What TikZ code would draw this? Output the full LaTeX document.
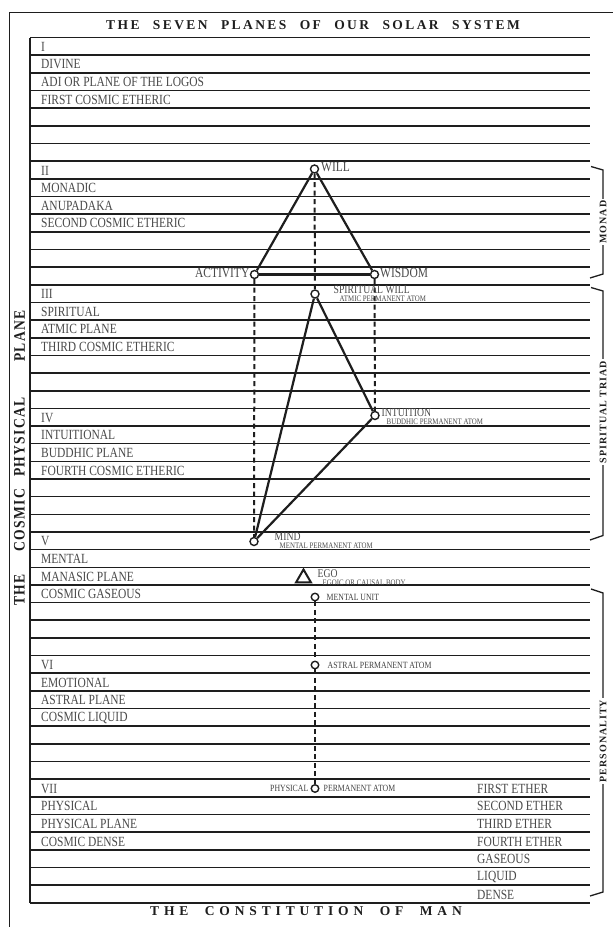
\documentclass[tikz,border=0pt]{standalone}
\usepackage{fontspec}
\setmainfont{Liberation Serif}
\newfontfamily\labfont[FakeStretch=0.82]{Liberation Serif}
\newfontfamily\titlefont[LetterSpace=18,WordSpace=2.3]{Liberation Serif}
\newfontfamily\titlefontb[LetterSpace=36,WordSpace=2.0]{Liberation Serif}
\newfontfamily\sidefont[FakeStretch=0.85,LetterSpace=8]{Liberation Serif}
\newfontfamily\brkfont[LetterSpace=10]{Liberation Serif}
\usetikzlibrary{shapes.geometric}
\definecolor{txt}{HTML}{4A4A4A}
\definecolor{ink}{HTML}{1E1E1E}
\begin{document}
\begin{tikzpicture}[x=1pt,y=-1pt,
  rowline/.style={draw=ink,line width=1.6pt},
  frameline/.style={draw=ink,line width=1.6pt},
  rowlab/.style={anchor=west,inner sep=0pt,text=txt,font=\labfont\fontsize{14}{14}\selectfont},
  biglab/.style={inner sep=0pt,text=txt,font=\labfont\fontsize{14}{14}\selectfont},
  midlab/.style={anchor=west,inner sep=0pt,text=txt,font=\labfont\fontsize{11.8}{12}\selectfont},
  smalllab/.style={inner sep=0pt,text=ink!85,font=\labfont\fontsize{9.5}{10}\selectfont},
  tinylab/.style={anchor=west,inner sep=0pt,text=txt,font=\labfont\fontsize{8.4}{9}\selectfont},
  atom/.style={circle,draw=ink,fill=white,line width=1.4pt,minimum size=8pt,inner sep=0pt},
  tri/.style={draw=ink,line width=2.2pt},
  dashline/.style={draw=ink,line width=2pt,dash pattern=on 5pt off 3.5pt},
  brk/.style={draw=ink,line width=1.3pt},
  brklab/.style={rotate=90,fill=white,inner sep=2pt,text=ink,font=\brkfont\bfseries\fontsize{10}{10}\selectfont},
  sidelab/.style={rotate=90,inner sep=0pt,text=ink,font=\sidefont\bfseries\fontsize{16}{16}\selectfont},
]
\useasboundingbox (0,0) rectangle (613,927);
\fill[white] (0,0) rectangle (613,927);

% outer frame
\draw[frameline] (9.5,930) -- (9.5,12.5) -- (616,12.5);
% inner table
\foreach \k in {0,...,49}
  \draw[rowline] (30,{37.5+17.66*\k}) -- (590,{37.5+17.66*\k});
\draw[frameline] (30,37.5) -- (30,903.2);

% titles
\node[text=ink,font=\titlefont\bfseries\fontsize{13.5}{13.5}\selectfont] (title) at (313,25.5) {THE SEVEN PLANES OF OUR SOLAR SYSTEM};
\node[text=ink,font=\titlefontb\bfseries\fontsize{13.5}{13.5}\selectfont] (bottomtitle) at (306,911.5) {THE CONSTITUTION OF MAN};

% side title
\node[sidelab] (sPlane) at (19.5,336) {PLANE};
\node[sidelab] (sPhys) at (19.5,437) {PHYSICAL};
\node[sidelab] (sCosm) at (19.5,520) {COSMIC};
\node[sidelab] (sThe) at (19.5,590) {THE};

% row labels
\foreach \k/\t in {0/I,1/DIVINE,2/ADI OR PLANE OF THE LOGOS,3/FIRST COSMIC ETHERIC,
  7/II,8/MONADIC,9/ANUPADAKA,10/SECOND COSMIC ETHERIC,
  14/III,15/SPIRITUAL,16/ATMIC PLANE,17/THIRD COSMIC ETHERIC,
  21/IV,22/INTUITIONAL,23/BUDDHIC PLANE,24/FOURTH COSMIC ETHERIC,
  28/V,29/MENTAL,30/MANASIC PLANE,31/COSMIC GASEOUS,
  35/VI,36/EMOTIONAL,37/ASTRAL PLANE,38/COSMIC LIQUID,
  42/VII,43/PHYSICAL,44/PHYSICAL PLANE,45/COSMIC DENSE}
  \node[rowlab] (lab\k) at (41,{46.8+17.66*\k}) {\t};
\foreach \k/\t in {42/FIRST ETHER,43/SECOND ETHER,44/THIRD ETHER,45/FOURTH ETHER,46/GASEOUS,47/LIQUID,48/DENSE}
  \node[rowlab] (eth\k) at (477,{46.8+17.66*\k}) {\t};

% atoms
\node[atom] (will) at (314.5,169) {};
\node[atom] (activity) at (254.5,274.5) {};
\node[atom] (wisdom) at (374.5,274.5) {};
\node[atom] (swill) at (315,294) {};
\node[atom] (intuition) at (375,415.5) {};
\node[atom] (mind) at (254,541.5) {};
\node[atom,minimum size=7.5pt] (munit) at (315,597) {};
\node[atom,minimum size=7.5pt] (astral) at (315,665) {};
\node[atom,minimum size=7.5pt] (physical) at (315,788.5) {};
\node[regular polygon,regular polygon sides=3,draw=ink,line width=2pt,minimum size=17pt,inner sep=0pt] (ego) at (303.5,578) {};

% dashed verticals
\draw[dashline] (will) -- (swill);
\draw[dashline] (activity) -- (mind);
\draw[dashline] (wisdom) -- (intuition);
\draw[dashline] (munit) -- (astral);
\draw[dashline] (astral) -- (physical);

% triangles
\draw[tri] (will) -- (activity);
\draw[tri] (will) -- (wisdom);
\draw[tri] (activity) -- (wisdom);
\draw[tri] (swill) -- (intuition);
\draw[tri] (intuition) -- (mind);
\draw[tri] (mind) -- (swill);

% atom labels
\node[biglab,anchor=west] (lwill) at (321,167.5) {WILL};
\node[biglab,anchor=east] (lact) at (249.5,272.5) {ACTIVITY};
\node[biglab,anchor=west] (lwis) at (380,272.5) {WISDOM};
\node[midlab] (lsw) at (333.5,290) {SPIRITUAL WILL};
\node[tinylab] (lsw2) at (339.5,299) {ATMIC PERMANENT ATOM};
\node[midlab] (lint) at (381.5,412.5) {INTUITION};
\node[tinylab] (lint2) at (386.5,421.5) {BUDDHIC PERMANENT ATOM};
\node[midlab] (lmind) at (274.5,537) {MIND};
\node[tinylab] (lmind2) at (279.5,546) {MENTAL PERMANENT ATOM};
\node[midlab] (lego) at (317.5,574) {EGO};
\node[tinylab] (lego2) at (322.5,582.5) {EGOIC OR CAUSAL BODY};
\node[smalllab,anchor=west] (lmu) at (326.5,597) {MENTAL UNIT};
\node[smalllab,anchor=west] (last) at (327.5,665) {ASTRAL PERMANENT ATOM};
\node[smalllab,anchor=east] (lphys) at (308.5,788) {PHYSICAL};
\node[smalllab,anchor=west] (lphys2) at (323.5,788) {PERMANENT ATOM};

% brackets
\draw[brk] (591,166.5) -- (603,170) -- (603,274) -- (590,278);
\node[brklab] (bmonad) at (603,222) {MONAD};
\draw[brk] (591,287.5) -- (603,291) -- (603,535.5) -- (590,540);
\node[brklab] (btriad) at (603,412) {SPIRITUAL TRIAD};
\draw[brk] (591,589) -- (603,593) -- (603,892) -- (590,896);
\node[brklab] (bpers) at (603,741) {PERSONALITY};
\end{tikzpicture}
\end{document}
